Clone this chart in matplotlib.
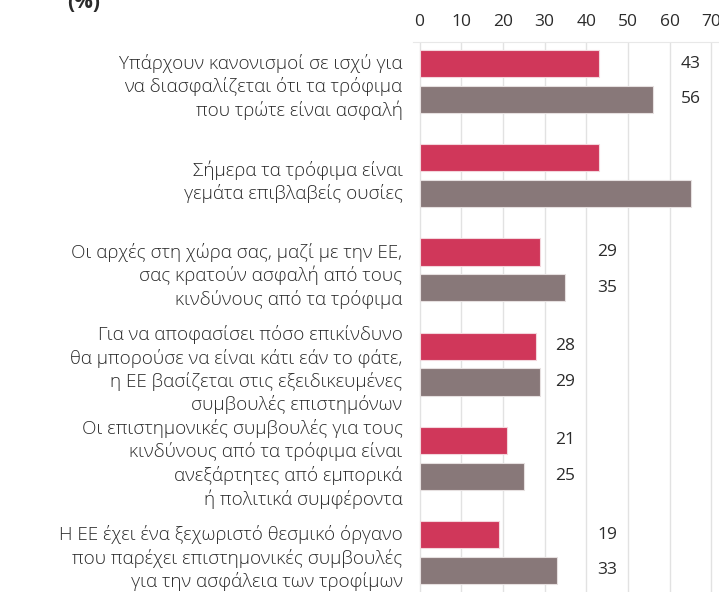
import math
import matplotlib.pyplot as plt
import numpy as np
from matplotlib.transforms import blended_transform_factory

plt.rcParams['font.family'] = ['Open Sans', 'DejaVu Sans']

categories = [
    "Υπάρχουν κανονισμοί σε ισχύ για\nνα διασφαλίζεται ότι τα τρόφιμα\nπου τρώτε είναι ασφαλή",
    "Σήμερα τα τρόφιμα είναι\nγεμάτα επιβλαβείς ουσίες",
    "Οι αρχές στη χώρα σας, μαζί με την ΕΕ,\nσας κρατούν ασφαλή από τους\nκινδύνους από τα τρόφιμα",
    "Για να αποφασίσει πόσο επικίνδυνο\nθα μπορούσε να είναι κάτι εάν το φάτε,\nη ΕΕ βασίζεται στις εξειδικευμένες\nσυμβουλές επιστημόνων",
    "Οι επιστημονικές συμβουλές για τους\nκινδύνους από τα τρόφιμα είναι\nανεξάρτητες από εμπορικά\nή πολιτικά συμφέροντα",
    "Η ΕΕ έχει ένα ξεχωριστό θεσμικό όργανο\nπου παρέχει επιστημονικές συμβουλές\nγια την ασφάλεια των τροφίμων",
]
series_a = [43, 43, 29, 28, 21, 19]
series_b = [56, 65, 35, 29, 25, 33]
xticks = [0, 10, 20, 30, 40, 50, 60, 70]

RED = "#d0375a"
GREY = "#887879"
TXT = "#2b2b2b"
XMAX = 71.8

fig = plt.figure(figsize=(7.19, 5.92), dpi=100)
ax = fig.add_axes([413 / 719, 0.0, 1 - 413 / 719, 1 - 42 / 592])

y = np.arange(len(categories))
h = 0.29
off = 0.19
ax.barh(y - off, series_a, height=h, color=RED, edgecolor="#f3d6dc", linewidth=0.8, zorder=3)
ax.barh(y + off, series_b, height=h, color=GREY, edgecolor="#e6e0e0", linewidth=0.8, zorder=3)

# value labels sit in a column past the longer bar of each pair;
# the ones that would land off the scale are not shown (as in the original)
for i in range(len(categories)):
    xpos = math.ceil(max(series_a[i], series_b[i]) / 10) * 10 + 5
    if xpos > XMAX:
        continue
    ax.text(xpos, i - off, str(series_a[i]), ha="center", va="center",
            fontsize=12.5, color=TXT)
    ax.text(xpos, i + off, str(series_b[i]), ha="center", va="center",
            fontsize=12.5, color=TXT)

trans = blended_transform_factory(ax.transAxes, ax.transData)
for i, lab in enumerate(categories):
    ax.text(-0.034, i + 0.06, lab, transform=trans, ha="right", va="center",
            fontsize=13.6, color=TXT, fontweight="light", linespacing=1.28)

ax.set_xlim(-1.56, XMAX)
ax.set_ylim(len(categories) - 0.58, -0.42)
ax.xaxis.tick_top()
ax.set_xticks(xticks)
ax.tick_params(axis="x", length=0, pad=9, labelsize=12.5, labelcolor=TXT)
ax.set_yticks([])
ax.grid(axis="x", color="#e2e2e2", linewidth=1, zorder=0)
for s in ["left", "right", "bottom"]:
    ax.spines[s].set_visible(False)
ax.spines["top"].set_color("#e8e8e8")

fig.text(67 / 719, 1 - 3 / 592, "(%)", fontsize=15, fontweight="bold", color=TXT,
         ha="left", va="center")

plt.savefig("out.png", dpi=100)
